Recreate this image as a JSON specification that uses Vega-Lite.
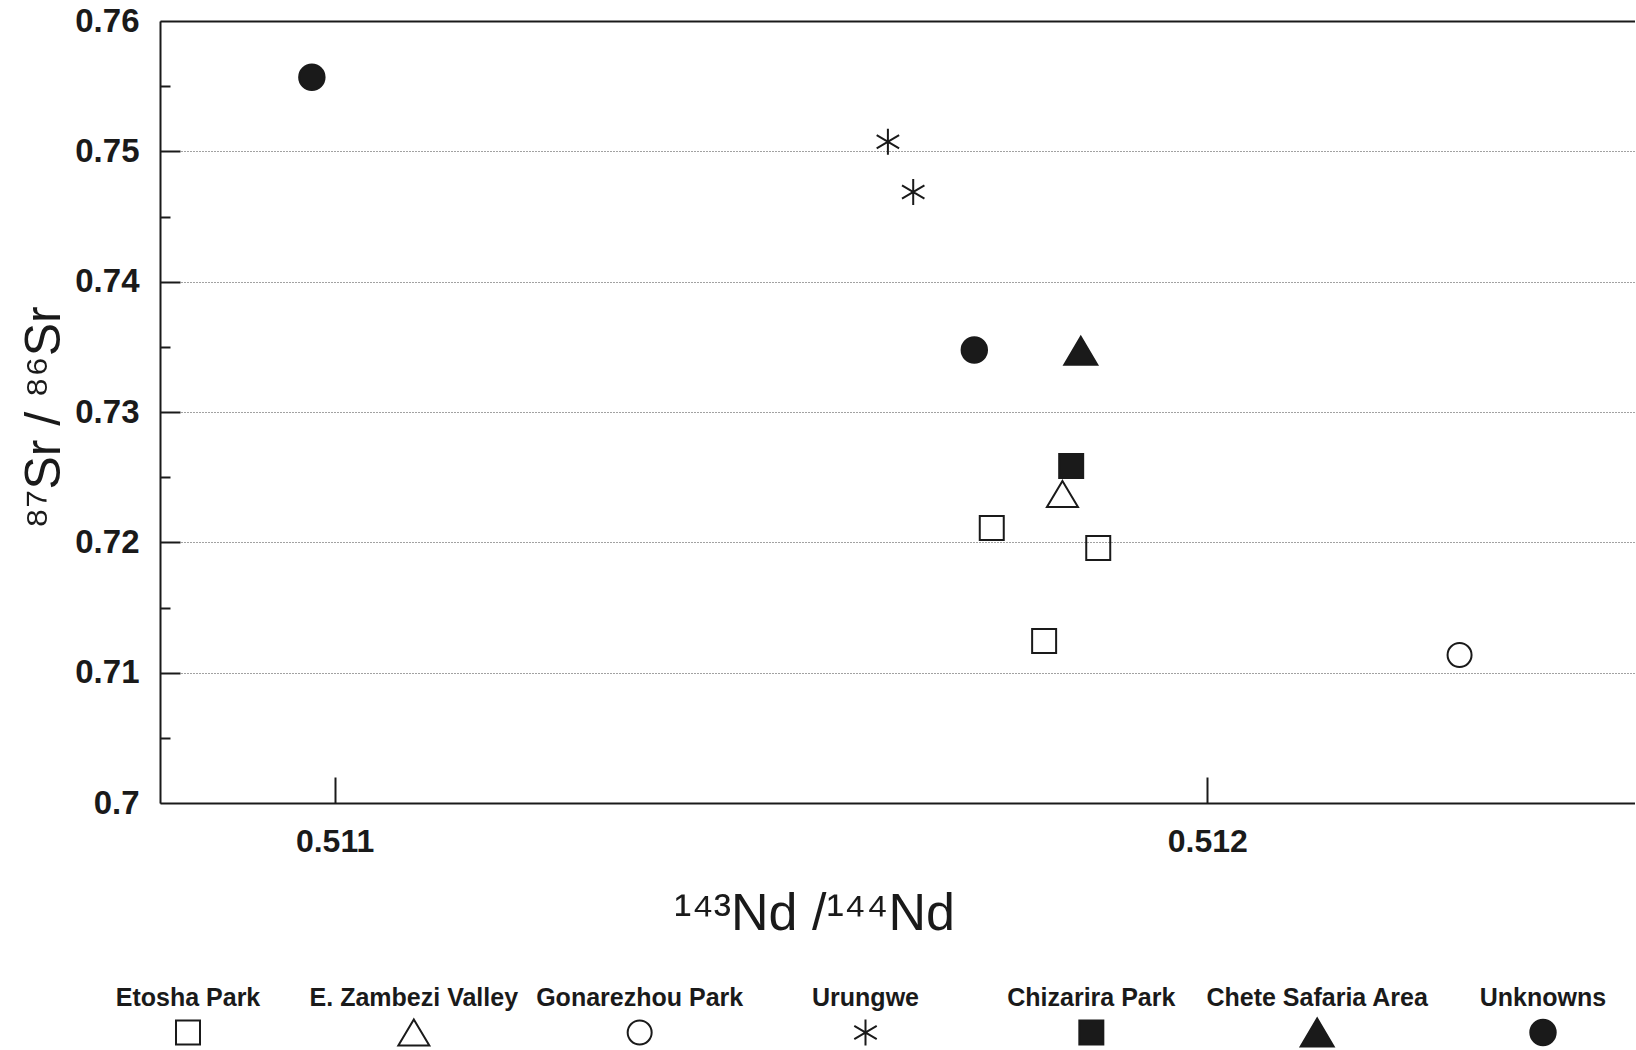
{
  "$schema": "https://vega.github.io/schema/vega-lite/v6.json",
  "padding": {"left": 19, "top": 5, "right": 0, "bottom": 0},
  "background": "white",
  "config": {"view": {"stroke": null}, "font": "Liberation Sans"},
  "datasets": {
    "points": [
      {"series": "Etosha Park", "nd": 0.511753, "sr": 0.7211},
      {"series": "Etosha Park", "nd": 0.511875, "sr": 0.71956},
      {"series": "Etosha Park", "nd": 0.511813, "sr": 0.71243},
      {"series": "E. Zambezi Valley", "nd": 0.511834, "sr": 0.72371},
      {"series": "Gonarezhou Park", "nd": 0.512289, "sr": 0.71136},
      {"series": "Urungwe", "nd": 0.511634, "sr": 0.75074},
      {"series": "Urungwe", "nd": 0.511663, "sr": 0.74688},
      {"series": "Chizarira Park", "nd": 0.511844, "sr": 0.72586},
      {"series": "Chete Safaria Area", "nd": 0.511855, "sr": 0.7347},
      {"series": "Unknowns", "nd": 0.510974, "sr": 0.75568},
      {"series": "Unknowns", "nd": 0.511733, "sr": 0.73476}
    ],
    "legend": [
      {"series": "Etosha Park"},
      {"series": "E. Zambezi Valley"},
      {"series": "Gonarezhou Park"},
      {"series": "Urungwe"},
      {"series": "Chizarira Park"},
      {"series": "Chete Safaria Area"},
      {"series": "Unknowns"}
    ]
  },
  "vconcat": [
    {
      "width": 1475,
      "height": 782,
      "data": {"name": "points"},
      "layer": [
        {
          "mark": {"type": "point", "size": 1089, "stroke": "#1a1a1a", "strokeWidth": 2, "opacity": 1},
          "encoding": {
            "x": {
              "field": "nd", "type": "quantitative",
              "scale": {"domain": [0.5108, 0.51249], "zero": false, "nice": false},
              "axis": {
                "values": [0.511, 0.512], "format": ".3f", "ticks": false, "grid": false,
                "domain": true, "domainColor": "#1a1a1a", "domainWidth": 2,
                "labelFont": "Liberation Sans", "labelFontSize": 32, "labelFontWeight": "bold",
                "labelColor": "#1a1a1a", "labelPadding": 23, "labelFlush": false, "labelOverlap": false,
                "title": "¹⁴³Nd /¹⁴⁴Nd", "titleFont": "Liberation Sans", "titleFontSize": 52,
                "titleFontWeight": "normal", "titleColor": "#1a1a1a",
                "titleX": 654, "titleY": 110, "titleBaseline": "middle", "titleAlign": "center"
              }
            },
            "y": {
              "field": "sr", "type": "quantitative",
              "scale": {"domain": [0.70, 0.76], "zero": false, "nice": false},
              "axis": {
                "values": [0.70, 0.71, 0.72, 0.73, 0.74, 0.75, 0.76], "format": ".2~f",
                "ticks": false, "grid": true, "gridDash": [1, 2], "gridColor": "#444444", "gridWidth": 1,
                "domain": true, "domainColor": "#1a1a1a", "domainWidth": 2,
                "labelFont": "Liberation Sans", "labelFontSize": 33, "labelFontWeight": "bold",
                "labelColor": "#1a1a1a", "labelPadding": 21, "labelOverlap": false, "labelFlush": false,
                "title": "⁸⁷Sr / ⁸⁶Sr", "titleFont": "Liberation Sans", "titleFontSize": 50,
                "titleFontWeight": "normal", "titleColor": "#1a1a1a",
                "titleX": -116, "titleY": 396, "titleBaseline": "middle", "titleAlign": "center", "titleAngle": -90
              }
            },
            "shape": {
              "field": "series", "type": "nominal", "legend": null,
              "scale": {
                "domain": ["Etosha Park", "E. Zambezi Valley", "Gonarezhou Park", "Urungwe", "Chizarira Park", "Chete Safaria Area", "Unknowns"],
                "range": [
                  "M-0.727,-0.727L0.727,-0.727L0.727,0.727L-0.727,0.727Z",
                  "M0,-0.79L0.94,0.79L-0.94,0.79Z",
                  "M-0.727,0A0.727,0.727 0 1,0 0.727,0A0.727,0.727 0 1,0 -0.727,0Z",
                  "M0,-0.79L0,0.79M-0.68,-0.4L0.68,0.4M-0.68,0.4L0.68,-0.4",
                  "M-0.727,-0.727L0.727,-0.727L0.727,0.727L-0.727,0.727Z",
                  "M0,-0.85L1,0.85L-1,0.85Z",
                  "M-0.77,0A0.77,0.77 0 1,0 0.77,0A0.77,0.77 0 1,0 -0.77,0Z"
                ]
              }
            },
            "fill": {
              "field": "series", "type": "nominal", "legend": null,
              "scale": {
                "domain": ["Etosha Park", "E. Zambezi Valley", "Gonarezhou Park", "Urungwe", "Chizarira Park", "Chete Safaria Area", "Unknowns"],
                "range": ["transparent", "transparent", "transparent", "transparent", "#1a1a1a", "#1a1a1a", "#1a1a1a"]
              }
            }
          }
        },
        {
          "mark": {"type": "point", "opacity": 0},
          "encoding": {
            "x": {
              "field": "nd", "type": "quantitative",
              "axis": {
                "orient": "bottom", "values": [0.511, 0.512], "ticks": true, "tickSize": -26,
                "tickColor": "#1a1a1a", "tickWidth": 2, "labels": false, "domain": false, "grid": false, "title": null
              }
            },
            "y": {
              "field": "sr", "type": "quantitative",
              "axis": {
                "orient": "left", "values": [0.71, 0.72, 0.73, 0.74, 0.75], "ticks": true, "tickSize": -20,
                "tickColor": "#1a1a1a", "tickWidth": 2, "labels": false, "domain": false, "grid": false, "title": null
              }
            }
          }
        },
        {
          "mark": {"type": "point", "opacity": 0},
          "encoding": {
            "x": {
              "field": "nd", "type": "quantitative",
              "axis": {
                "orient": "top", "ticks": false, "labels": false, "domain": true,
                "domainColor": "#1a1a1a", "domainWidth": 2, "grid": false, "title": null
              }
            },
            "y": {
              "field": "sr", "type": "quantitative",
              "axis": {
                "orient": "left", "values": [0.705, 0.715, 0.725, 0.735, 0.745, 0.755], "ticks": true, "tickSize": -10,
                "tickColor": "#1a1a1a", "tickWidth": 2, "labels": false, "domain": false, "grid": false, "title": null
              }
            }
          }
        }
      ],
      "resolve": {"axis": {"x": "independent", "y": "independent"}}
    },
    {
      "width": 1411,
      "height": 70,
      "data": {"name": "legend"},
      "layer": [
        {
          "mark": {"type": "text", "font": "Liberation Sans", "fontSize": 25, "fontWeight": "bold", "baseline": "middle", "align": "center", "fill": "#1a1a1a"},
          "encoding": {
            "x": {
              "field": "series", "type": "nominal", "axis": null, "sort": null,
              "scale": {"type": "point", "padding": 0.124,
                "domain": ["Etosha Park", "E. Zambezi Valley", "Gonarezhou Park", "Urungwe", "Chizarira Park", "Chete Safaria Area", "Unknowns"]}
            },
            "y": {"datum": "label", "type": "nominal", "axis": null,
              "scale": {"type": "point", "padding": 0.5, "domain": ["label", "symbol"]}},
            "text": {"field": "series"}
          }
        },
        {
          "mark": {"type": "point", "size": 1089, "stroke": "#1a1a1a", "strokeWidth": 2, "opacity": 1},
          "encoding": {
            "x": {"field": "series", "type": "nominal", "axis": null, "sort": null},
            "y": {"datum": "symbol", "type": "nominal", "axis": null},
            "shape": {
              "field": "series", "type": "nominal", "legend": null,
              "scale": {
                "domain": ["Etosha Park", "E. Zambezi Valley", "Gonarezhou Park", "Urungwe", "Chizarira Park", "Chete Safaria Area", "Unknowns"],
                "range": [
                  "M-0.727,-0.727L0.727,-0.727L0.727,0.727L-0.727,0.727Z",
                  "M0,-0.79L0.94,0.79L-0.94,0.79Z",
                  "M-0.727,0A0.727,0.727 0 1,0 0.727,0A0.727,0.727 0 1,0 -0.727,0Z",
                  "M0,-0.79L0,0.79M-0.68,-0.4L0.68,0.4M-0.68,0.4L0.68,-0.4",
                  "M-0.727,-0.727L0.727,-0.727L0.727,0.727L-0.727,0.727Z",
                  "M0,-0.85L1,0.85L-1,0.85Z",
                  "M-0.77,0A0.77,0.77 0 1,0 0.77,0A0.77,0.77 0 1,0 -0.77,0Z"
                ]
              }
            },
            "fill": {
              "field": "series", "type": "nominal", "legend": null,
              "scale": {
                "domain": ["Etosha Park", "E. Zambezi Valley", "Gonarezhou Park", "Urungwe", "Chizarira Park", "Chete Safaria Area", "Unknowns"],
                "range": ["transparent", "transparent", "transparent", "transparent", "#1a1a1a", "#1a1a1a", "#1a1a1a"]
              }
            }
          }
        }
      ]
    }
  ],
  "spacing": 41
}
